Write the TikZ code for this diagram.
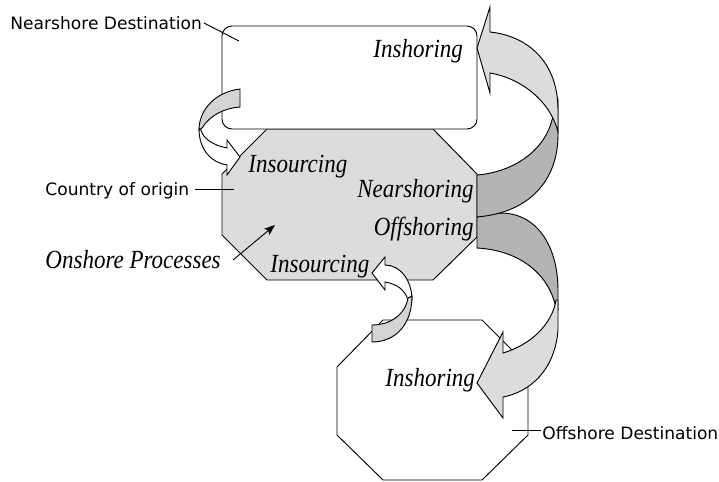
\documentclass[tikz,border=0pt]{standalone}
\usepackage{fontspec}
\setmainfont{Liberation Serif}
\setsansfont{DejaVu Sans}
\newfontfamily\serifcond{Liberation Serif}[FakeStretch=0.88]
\usetikzlibrary{arrows.meta}
\definecolor{lightface}{RGB}{220,220,220}
\definecolor{smallface}{RGB}{212,212,212}
\definecolor{darkface}{RGB}{180,180,180}
\begin{document}
\begin{tikzpicture}[x=0.75pt,y=-0.75pt,line width=0.7pt,line join=miter,
  lbl/.style={font=\fontsize{12.8}{15}\sffamily,inner sep=0pt},
  itl/.style={font=\fontsize{19.6}{22}\serifcond\itshape,inner sep=0pt},
  face/.style={draw=black,line width=0.7pt},
  leader/.style={draw=black,line width=0.7pt}]
\useasboundingbox (0,0) rectangle (719,482);

% country of origin (grey octagon)
\draw[face,fill=lightface] (267,129) -- (433,129) -- (477,174) -- (477,237) -- (433,280) -- (267,280) -- (222,235) -- (222,174) -- cycle;
% offshore destination (white octagon)
\draw[face,fill=white] (383,320) -- (482,320) -- (528,366) -- (528,435) -- (482,480) -- (383,480) -- (337,435) -- (337,367) -- cycle;
% nearshore destination (rounded rectangle)
\draw[face,fill=white,rounded corners=7.5pt] (222,26) rectangle (477,129);

% Offshoring arrow (B): dark back face
\draw[face,fill=darkface] (477,217) .. controls (530,200) and (558,240) .. (558,290) -- (558,310) -- (556,308) .. controls (548,270) and (515,250) .. (477,248) -- cycle;
% Nearshoring arrow (A): dark back face
\draw[face,fill=darkface] (477,217) .. controls (535,212) and (558,175) .. (558,135) -- (558,100) -- (554,108) .. controls (551,148) and (515,172) .. (477,175) -- cycle;
% A: light front face with head
\draw[face,fill=lightface] (477,48) -- (490,7) -- (490,32) .. controls (528,36) and (558,62) .. (558,110) -- (558,132) .. controls (550,100) and (520,78) .. (490,73) -- (490,93) -- cycle;
% B: light front face with head
\draw[face,fill=lightface] (477,383) -- (503,332) -- (503,353) .. controls (530,345) and (552,325) .. (556,300) -- (558,300) -- (558,330) .. controls (555,370) and (530,392) .. (503,397) -- (503,418) -- cycle;

% small upper arrow (C)
\draw[face,fill=smallface] (240,89) .. controls (215,92) and (199,110) .. (199,130) -- (202,128) .. controls (210,115) and (225,108) .. (240,107) -- cycle;
\draw[face,fill=white] (199,129) .. controls (199,150) and (212,163) .. (227,165) -- (227,175) -- (240,157) -- (227,140) -- (227,148) .. controls (212,145) and (203,138) .. (201,130) -- cycle;

% small lower arrow (D)
\draw[face,fill=white] (372,273) -- (385,257) -- (385,265) .. controls (400,265) and (412,280) .. (412,300) -- (408,300) .. controls (405,290) and (397,284) .. (385,282) -- (385,290) -- cycle;
\draw[face,fill=smallface] (412,296) .. controls (412,325) and (395,342) .. (372,342) -- (372,325) .. controls (390,325) and (405,315) .. (408,298) -- cycle;

% labels
\node[lbl,anchor=base west] (nd) at (10,29) {Nearshore Destination};
\node[lbl,anchor=base west] (co) at (45,195) {Country of origin};
\node[lbl,anchor=base west] (od) at (542,439) {Offshore Destination};
\node[itl,anchor=base west] (op) at (45,268) {Onshore Processes};

\coordinate (ndA) at (204,23);
\coordinate (ndB) at (239,41);
\coordinate (coA) at (195,189);
\coordinate (coB) at (234,189);
\coordinate (odA) at (512,430);
\coordinate (odB) at (541,430);
\coordinate (opA) at (233,260);
\coordinate (opB) at (275,225);
\draw[leader] (ndA) -- (ndB);
\draw[leader] (coA) -- (coB);
\draw[leader] (odA) -- (odB);
\draw[leader,-{Stealth[length=8pt,width=6pt,inset=1.5pt]}] (opA) -- (opB);

\node[itl,anchor=base west] (ins1) at (373,57) {Inshoring};
\node[itl,anchor=base west] (isc1) at (248,172) {Insourcing};
\node[itl,anchor=base east] (nsh) at (474,197) {Nearshoring};
\node[itl,anchor=base east] (osh) at (474,235) {Offshoring};
\node[itl,anchor=base west] (isc2) at (270,272) {Insourcing};
\node[itl,anchor=base west] (ins2) at (385,386) {Inshoring};
\end{tikzpicture}
\end{document}
